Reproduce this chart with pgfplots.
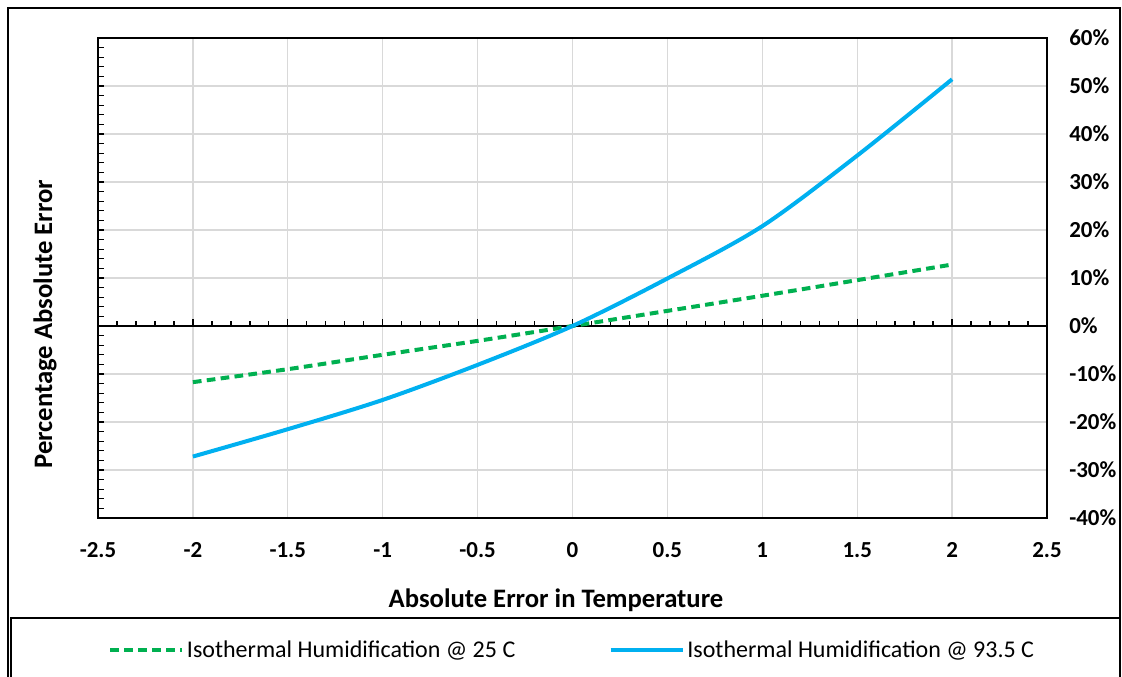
\documentclass[border=0pt]{standalone}
\usepackage{fontspec}
\setmainfont{Carlito}
\usepackage{pgfplots}
\pgfplotsset{compat=1.18}

\definecolor{gridgray}{HTML}{D9D9D9}
\definecolor{xlgreen}{HTML}{00B050}
\definecolor{xlblue}{HTML}{00B0F0}

% common geometry of the plot area (1 unit = 0.75pt)
\pgfplotsset{
  plotarea/.style={
    scale only axis,
    width=711.75pt, height=360pt,
    xmin=-2.5, xmax=2.5, ymin=-40, ymax=60,
  },
}

\begin{document}
\begin{tikzpicture}[x=0.75pt,y=0.75pt]
\useasboundingbox (0,0) rectangle (1122,677);

% chart border and legend frame
\draw[line width=1.3pt] (8,-20) rectangle (1120,669);
\draw[line width=1.3pt, fill=white] (11,-20) rectangle (1120,59);

% frame, grid, vertical axis ticks and labels
\begin{axis}[
  plotarea,
  at={(73.5pt,119.25pt)}, anchor=south west,
  axis line style={black, line width=1.2pt},
  grid=major,
  major grid style={gridgray, line width=1pt},
  xtick={-2.5,-2,-1.5,-1,-0.5,0,0.5,1,1.5,2,2.5},
  xticklabels={},
  xmajorticks=false, xminorticks=false,
  ytick={-40,-30,-20,-10,0,10,20,30,40,50,60},
  yticklabels={-40\%,-30\%,-20\%,-10\%,0\%,10\%,20\%,30\%,40\%,50\%,60\%},
  ytick pos=left, yticklabel pos=right,
  ytick align=inside,
  minor y tick num=4,
  major tick length=4.5pt, minor tick length=4.5pt,
  every tick/.style={black, line width=1pt},
  yticklabel style={anchor=west, inner xsep=0pt, xshift=16.5pt},
  tick label style={font=\bfseries\fontsize{17.2}{20}\selectfont},
]
\end{axis}

% horizontal axis through zero, ticks pointing up, labels below the plot area
\begin{axis}[
  scale only axis,
  width=711.75pt, height=216pt,
  at={(73.5pt,263.25pt)}, anchor=south west,
  xmin=-2.5, xmax=2.5, ymin=0, ymax=60,
  axis x line=bottom, axis y line=none,
  x axis line style={black, line width=1.5pt, -},
  xtick={-2.5,-2,-1.5,-1,-0.5,0,0.5,1,1.5,2,2.5},
  xticklabels={-2.5,-2,-1.5,-1,-0.5,0,0.5,1,1.5,2,2.5},
  xticklabel style={anchor=center, yshift=-168pt,
    font=\bfseries\fontsize{17.2}{20}\selectfont},
  minor x tick num=4,
  xtick align=inside,
  major tick length=5.25pt, minor tick length=3.75pt,
  every tick/.style={black, line width=1pt},
]
\end{axis}

% data series
\begin{axis}[
  plotarea,
  at={(73.5pt,119.25pt)}, anchor=south west,
  hide axis,
  legend columns=2,
  legend style={
    at={(0.5,-0.275)}, anchor=center,
    draw=none, fill=none,
    font=\fontsize{18}{22}\selectfont,
    /tikz/every even column/.append style={column sep=68pt},
  },
  legend image code/.code={\draw[#1] (0pt,0pt) -- (54pt,0pt);},
]
\addplot[xlgreen, line width=3pt, dash pattern=on 6.5pt off 4pt, smooth, tension=0.5]
  coordinates {
  (-2,-11.7) (-1.5,-9.0) (-1,-6.0) (-0.5,-3.1) (0,0)
  (0.5,3.15) (1,6.3) (1.5,9.55) (2,12.8)
  };
\addlegendentry{Isothermal Humidification @ 25 C}
\addplot[xlblue, line width=3pt, smooth, tension=0.5]
  coordinates {
  (-2,-27.2) (-1.5,-21.5) (-1,-15.4) (-0.5,-8.1) (0,0)
  (0.5,9.9) (1,20.8) (1.5,35.5) (2,51.4)
  };
\addlegendentry{Isothermal Humidification @ 93.5 C}
\end{axis}

% axis titles
\node[font=\bfseries\fontsize{20}{24}\selectfont] at (556,77) {Absolute Error in Temperature};
\node[font=\bfseries\fontsize{20}{24}\selectfont, rotate=90] at (45,353) {Percentage Absolute Error};
\end{tikzpicture}
\end{document}
